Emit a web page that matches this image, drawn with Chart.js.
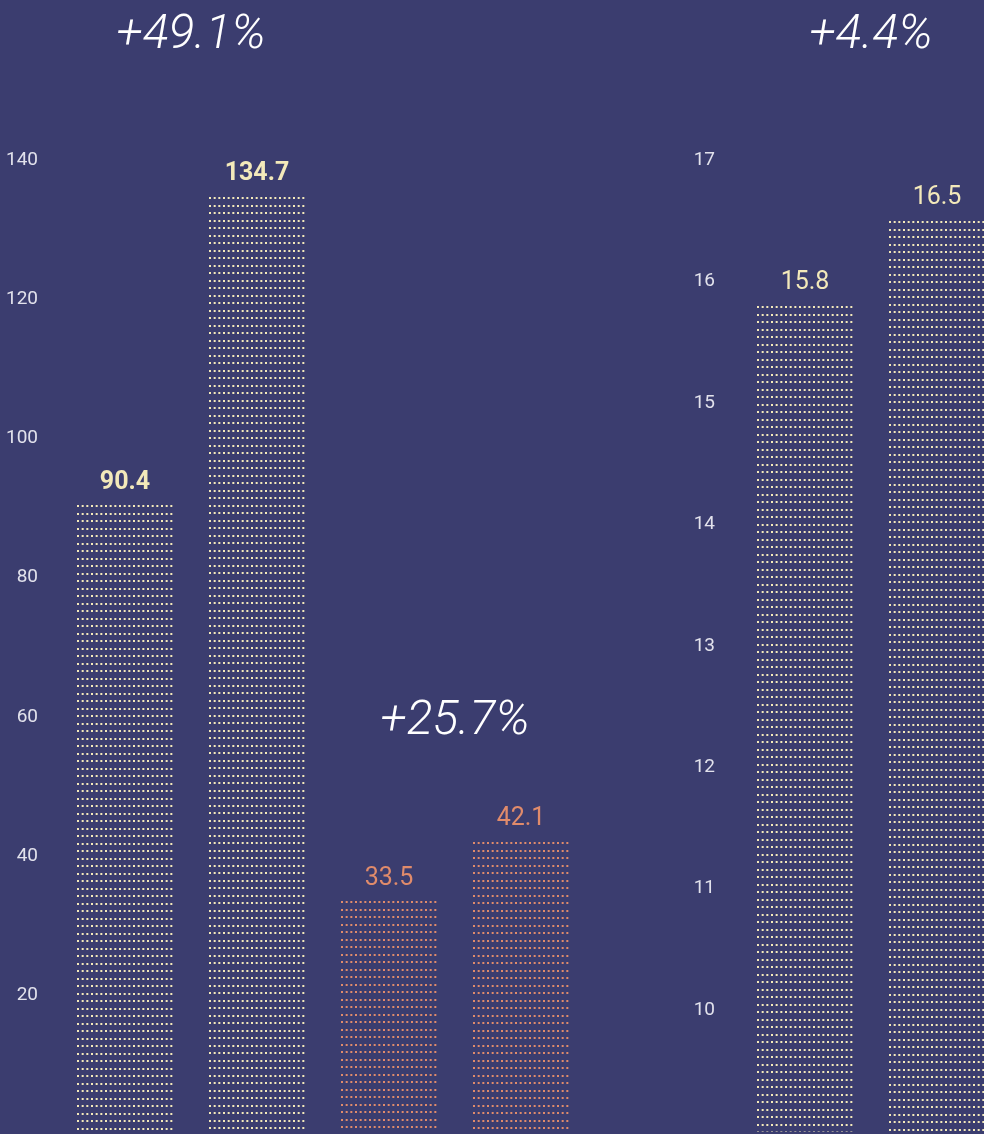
<!DOCTYPE html>
<html>
<head>
<meta charset="utf-8">
<script src="https://cdn.jsdelivr.net/npm/chart.js@4.4.1/dist/chart.umd.min.js"></script>
<style>
    html, body { margin: 0; padding: 0; background: #3b3d6f; overflow: hidden; width: 984px; height: 1134px; }
    .panel { position: absolute; top: 0; }
    #leftPanel { left: 0; }
    #rightPanel { left: 640px; }
    canvas { display: block; }
</style>
</head>
<body>
<div class="panel" id="leftPanel"><canvas id="volumeChart" width="640" height="1167"></canvas></div>
<div class="panel" id="rightPanel"><canvas id="rateChart" width="400" height="1167"></canvas></div>
<script>
// --- values ---
var volumeCategories = ['Group A before', 'Group A after', 'Group B before', 'Group B after'];
var volumeValues = [90.4, 134.7, 33.5, 42.1];
var volumeChanges = ['+49.1%', '+25.7%'];
var volumeTicks = [20, 40, 60, 80, 100, 120, 140];

var rateCategories = ['before', 'after'];
var rateValues = [15.8, 16.5];
var rateChanges = ['+4.4%'];
var rateTicks = [10, 11, 12, 13, 14, 15, 16, 17];

var CREAM = '#f3e9ba';
var SALMON = '#e08b6b';
var TICK_COLOR = '#e2e2ec';

var volumeColors = [CREAM, CREAM, SALMON, SALMON];
var volumeBold = [true, true, false, false];
var rateColors = [CREAM, CREAM];
var rateBold = [false, false];

// dotted fill, anchored at the bar's top-left corner
function dotPattern(color, x0, y0) {
    var tile = document.createElement('canvas');
    tile.width = 14;
    tile.height = 15;
    var t = tile.getContext('2d');
    t.fillStyle = color;
    for (var cx = 0; cx < 3; cx++) {
        for (var cy = 0; cy < 2; cy++) {
            t.fillRect(cx * 14 / 3, Math.round(cy * 7.5), 2, 2);
        }
    }
    var p = t.createPattern(tile, 'repeat');
    p.setTransform(new DOMMatrix().translate(Math.round(x0), Math.round(y0)));
    return p;
}

function dottedFill(colors) {
    return function (c) {
        var chart = c.chart;
        if (c.type !== 'data' || !chart.chartArea) return colors[c.dataIndex];
        var x = chart.scales.x.getPixelForValue(c.dataIndex) - 48;
        var y = chart.scales.y.getPixelForValue(c.raw);
        return dotPattern(colors[c.dataIndex], x, y);
    };
}

// value above each bar + percentage change over each pair
var barLabelsPlugin = {
    id: 'barLabels',
    afterDatasetsDraw: function (chart, args, opts) {
        var ctx = chart.ctx;
        var meta = chart.getDatasetMeta(0);
        var values = chart.data.datasets[0].data;
        ctx.save();
        ctx.textAlign = 'center';
        ctx.textBaseline = 'middle';
        meta.data.forEach(function (bar, i) {
            ctx.font = (opts.bold[i] ? '700 ' : '400 ') + '25px Roboto';
            ctx.fillStyle = opts.colors[i];
            ctx.fillText(values[i].toFixed(1), bar.x, bar.y - 23);
        });
        ctx.font = 'italic 300 48px Roboto';
        ctx.fillStyle = '#ffffff';
        opts.changes.forEach(function (txt, k) {
            var a = meta.data[k * 2], b = meta.data[k * 2 + 1];
            ctx.fillText(txt, (a.x + b.x) / 2, opts.changeY[k]);
        });
        ctx.restore();
    }
};

function makeChart(canvasId, cfg) {
    return new Chart(document.getElementById(canvasId), {
        type: 'bar',
        data: {
            labels: cfg.categories,
            datasets: [{
                data: cfg.values,
                backgroundColor: dottedFill(cfg.colors),
                borderWidth: 0,
                barThickness: 96
            }]
        },
        options: {
            responsive: false,
            animation: false,
            layout: { padding: cfg.padding },
            scales: {
                x: { display: false },
                y: {
                    min: cfg.min, max: cfg.max,
                    afterFit: function (axis) { axis.width = cfg.axisWidth; },
                    afterBuildTicks: function (axis) {
                        axis.ticks = cfg.ticks.map(function (v) { return { value: v }; });
                    },
                    grid: { display: false, drawTicks: false },
                    border: { display: false },
                    ticks: {
                        color: TICK_COLOR,
                        padding: cfg.tickPadding,
                        font: { family: 'Roboto', size: 19 }
                    }
                }
            },
            plugins: {
                legend: { display: false },
                tooltip: { enabled: false },
                barLabels: {
                    colors: cfg.colors,
                    bold: cfg.bold,
                    changes: cfg.changes,
                    changeY: cfg.changeY
                }
            }
        },
        plugins: [barLabelsPlugin]
    });
}

makeChart('volumeChart', {
    categories: volumeCategories, values: volumeValues, colors: volumeColors, bold: volumeBold,
    changes: volumeChanges, changeY: [36, 722], ticks: volumeTicks,
    min: 0, max: 140, axisWidth: 59, tickPadding: 21,
    padding: { top: 160, bottom: 3, left: 0, right: 53 }
});

makeChart('rateChart', {
    categories: rateCategories, values: rateValues, colors: rateColors, bold: rateBold,
    changes: rateChanges, changeY: [36], ticks: rateTicks,
    min: 9, max: 17, axisWidth: 99, tickPadding: 24,
    padding: { top: 160, bottom: 3, left: 0, right: 37 }
});
</script>
</body>
</html>
